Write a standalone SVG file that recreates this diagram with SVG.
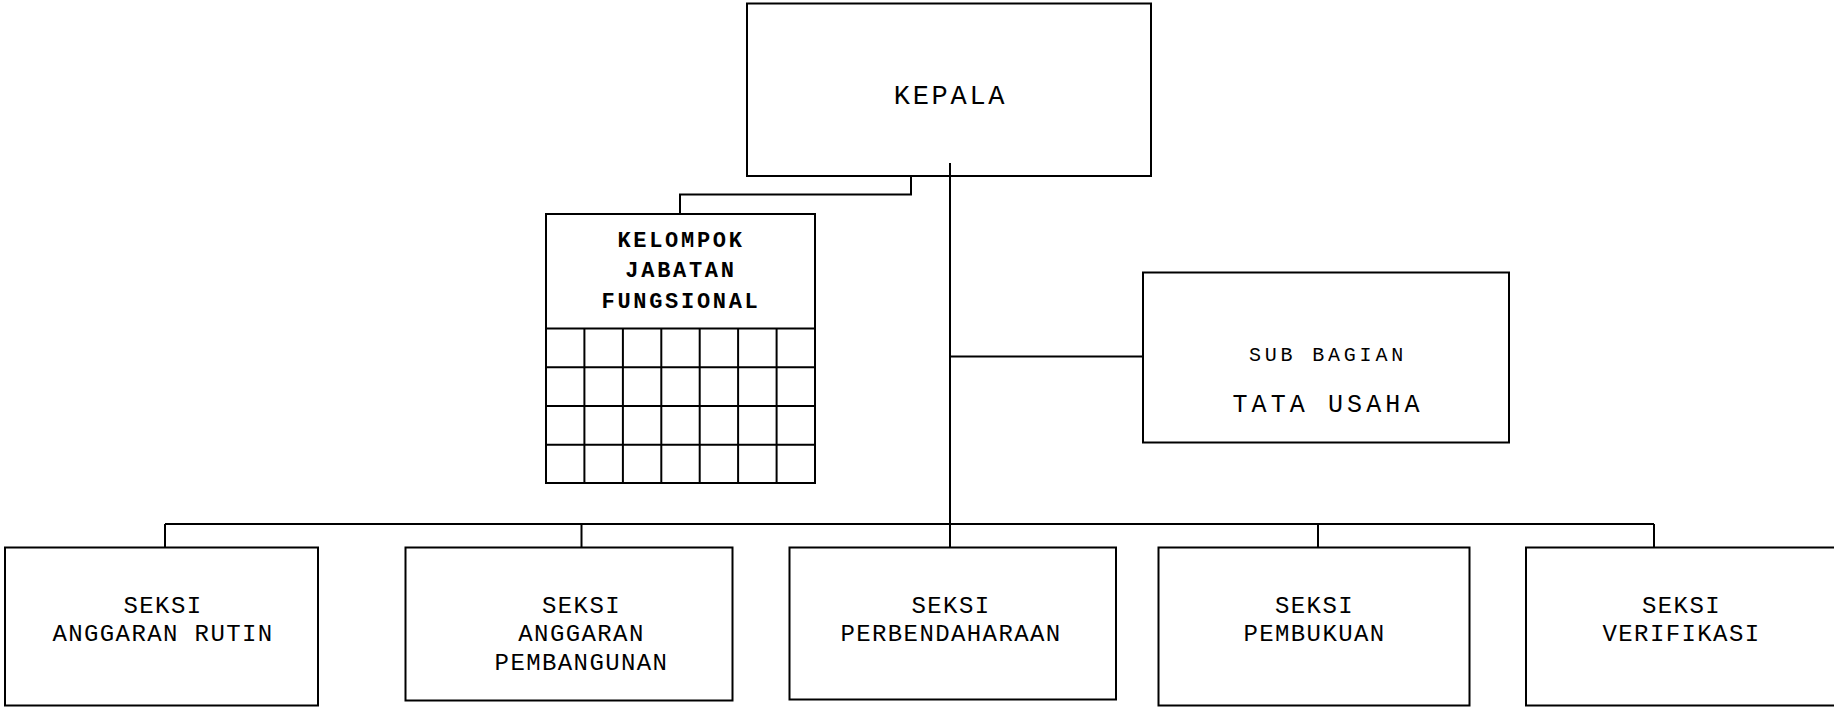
<svg xmlns="http://www.w3.org/2000/svg" width="1834" height="707" viewBox="0 0 1834 707">
<style>
.box{fill:#fff;stroke:#000;stroke-width:2}
.ln{fill:none;stroke:#000;stroke-width:2}
.grid{fill:none;stroke:#000;stroke-width:2}
text{font-family:"Liberation Mono","Courier New",monospace;fill:#000;text-anchor:middle}
.t-sec{font-size:24px;letter-spacing:1.4px}
.t-kep{font-size:27px;letter-spacing:2.7px}
.t-sub{font-size:20px;letter-spacing:3.8px}
.t-tu{font-size:25px;letter-spacing:4.1px}
.t-kjf{font-size:22px;letter-spacing:2.7px;font-weight:bold}
</style>
<rect width="1834" height="707" fill="#fff"/>
<g id="kepala">
<rect class="box" x="747" y="3.5" width="404" height="172.5"/>
<text class="t-kep" x="950.5" y="104.3">KEPALA</text>
</g>
<g id="kelompok">
<rect class="box" x="546" y="214" width="269" height="269"/>
<g class="grid">
<line x1="546" y1="328.6" x2="815" y2="328.6"/>
<line x1="546" y1="367.3" x2="815" y2="367.3"/>
<line x1="546" y1="406" x2="815" y2="406"/>
<line x1="546" y1="444.7" x2="815" y2="444.7"/>
<line x1="584.4" y1="328.6" x2="584.4" y2="483"/>
<line x1="622.9" y1="328.6" x2="622.9" y2="483"/>
<line x1="661.3" y1="328.6" x2="661.3" y2="483"/>
<line x1="699.7" y1="328.6" x2="699.7" y2="483"/>
<line x1="738.1" y1="328.6" x2="738.1" y2="483"/>
<line x1="776.6" y1="328.6" x2="776.6" y2="483"/>
</g>
<text class="t-kjf" x="681" y="246.7">KELOMPOK</text>
<text class="t-kjf" x="681" y="277.3">JABATAN</text>
<text class="t-kjf" x="681" y="308.3">FUNGSIONAL</text>
</g>
<g id="subbagian">
<rect class="box" x="1143" y="272.5" width="366" height="170"/>
<text class="t-sub" x="1328" y="360.7">SUB BAGIAN</text>
<text class="t-tu" x="1328" y="411.7">TATA USAHA</text>
</g>
<g id="seksi-rutin">
<rect class="box" x="5" y="547.5" width="313" height="158"/>
<text class="t-sec" x="163" y="612.5">SEKSI</text>
<text class="t-sec" x="163" y="641">ANGGARAN RUTIN</text>
</g>
<g id="seksi-pembangunan">
<rect class="box" x="405.5" y="547.5" width="327" height="153"/>
<text class="t-sec" x="581.5" y="612.5">SEKSI</text>
<text class="t-sec" x="581.5" y="641">ANGGARAN</text>
<text class="t-sec" x="581.5" y="669.5">PEMBANGUNAN</text>
</g>
<g id="seksi-perbendaharaan">
<rect class="box" x="789.5" y="547.5" width="326.5" height="152"/>
<text class="t-sec" x="951" y="612.5">SEKSI</text>
<text class="t-sec" x="951" y="641">PERBENDAHARAAN</text>
</g>
<g id="seksi-pembukuan">
<rect class="box" x="1158.5" y="547.5" width="311" height="158"/>
<text class="t-sec" x="1314.5" y="612.5">SEKSI</text>
<text class="t-sec" x="1314.5" y="641">PEMBUKUAN</text>
</g>
<g id="seksi-verifikasi">
<rect class="box" x="1526" y="547.5" width="320" height="158"/>
<text class="t-sec" x="1681.5" y="612.5">SEKSI</text>
<text class="t-sec" x="1681.5" y="641">VERIFIKASI</text>
</g>
<g id="connectors">
<polyline class="ln" points="911,176 911,194.5 680,194.5 680,214"/>
<line class="ln" x1="950" y1="163" x2="950" y2="547.5"/>
<line class="ln" x1="950" y1="356.5" x2="1143" y2="356.5"/>
<line class="ln" x1="165" y1="524" x2="1654" y2="524"/>
<line class="ln" x1="165" y1="524" x2="165" y2="547.5"/>
<line class="ln" x1="581.5" y1="524" x2="581.5" y2="547.5"/>
<line class="ln" x1="1318" y1="524" x2="1318" y2="547.5"/>
<line class="ln" x1="1654" y1="524" x2="1654" y2="547.5"/>
</g>
</svg>
